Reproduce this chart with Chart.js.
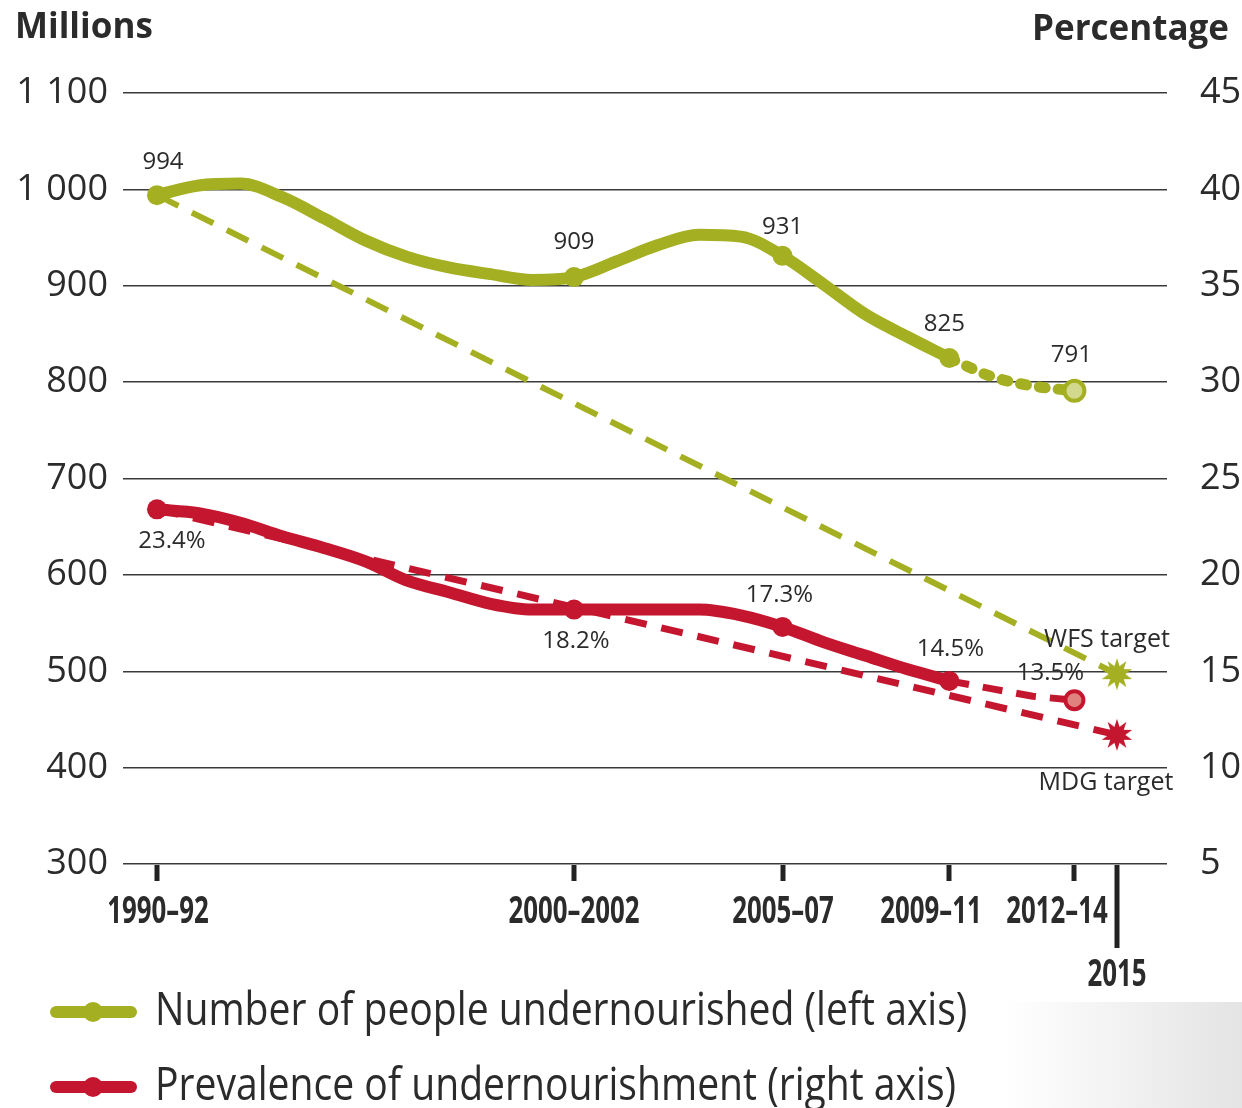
<!DOCTYPE html>
<html>
<head>
<meta charset="utf-8">
<title>Undernourishment</title>
<script src="https://cdn.jsdelivr.net/npm/chart.js@4.4.0/dist/chart.umd.min.js"></script>
<style>
	html, body { margin: 0; padding: 0; background: #fff; }
	#wrap { position: relative; width: 1242px; height: 1108px; }
	#shade { position: absolute; left: 1005px; top: 1002px; width: 237px; height: 106px;
		background: linear-gradient(to right, #ffffff, #e4e4e4); }
	#hungerChart { position: absolute; left: 0; top: 0; }
</style>
</head>
<body>
<div id="wrap">
	<div id="shade"></div>
	<canvas id="hungerChart" width="1242" height="1108"></canvas>
</div>
<script>
// yearly points, 1991 stands for 1990–92, 2001 for 2000–2002 and so on
var years = [1991, 1992, 1993, 1994, 1995, 1996, 1997, 1998, 1999, 2000,
	2001, 2002, 2003, 2004, 2005, 2006, 2007, 2008, 2009, 2010];
var undernourished = [994, 1004, 1006, 992, 970, 947, 930, 919, 912, 906,
	909, 925, 942, 953, 951, 931, 901, 870, 847, 825];
var prevalence = [23.4, 23.2, 22.7, 22.0, 21.4, 20.7, 19.7, 19.1, 18.5, 18.2,
	18.2, 18.2, 18.2, 18.2, 17.9, 17.3, 16.5, 15.8, 15.1, 14.5];

// provisional estimates up to 2012–14
var projYears = [2010, 2011, 2012, 2013];
var undernourishedProj = [825, 806, 796, 791];
var prevalenceProj = [14.5, 14.1, 13.7, 13.5];

// targets: the 2015 mark sits just right of 2012–14 in the original
var targetYears = [1991, 2014.02];
var wfsTarget = [994, 497];
var mdgTarget = [23.4, 11.7];

var tickYears = [1991, 2001, 2006, 2010, 2013, 2014.02];
var tickLabels = ['1990–92', '2000–2002', '2005–07', '2009–11', '2012–14', '2015'];

var labelYears = [1991, 2001, 2006, 2010, 2013];
var numberLabels = ['994', '909', '931', '825', '791'];
var prevalenceLabels = ['23.4%', '18.2%', '17.3%', '14.5%', '13.5%'];

var GREEN = '#a4b021';
var RED = '#c4172f';
var TEXT = '#2b2b2b';
var FONT = '"Open Sans", "Noto Sans", sans-serif';

var toXY = function(xs, ys) {
	return xs.map(function(x, i) {
		return { x: x, y: ys[i] };
	});
};

var valueAt = function(yr, xs, ys, xs2, ys2) {
	var i = xs.indexOf(yr);
	if (i > -1) return ys[i];
	return ys2[xs2.indexOf(yr)];
};

var makeStar = function(color, r) {
	var c = document.createElement('canvas');
	c.width = c.height = r * 2 + 2;
	var g = c.getContext('2d');
	g.translate(r + 1, r + 1);
	g.beginPath();
	for (var i = 0; i < 20; i++) {
		var a = i * Math.PI / 10 - Math.PI / 2;
		var rr = i % 2 === 0 ? r : r * 0.52;
		g.lineTo(Math.cos(a) * rr, Math.sin(a) * rr);
	}
	g.closePath();
	g.fillStyle = color;
	g.fill();
	return c;
};
var greenStar = makeStar(GREEN, 16);
var redStar = makeStar(RED, 16);

var drawText = function(ctx, text, x, y, font, align, squeeze) {
	ctx.save();
	ctx.font = font;
	ctx.translate(x, y);
	ctx.scale(squeeze || 1, 1);
	ctx.textAlign = align || 'center';
	ctx.textBaseline = 'middle';
	ctx.fillText(text, 0, 0);
	ctx.restore();
};

// value labels, axis titles, x ticks and legend
var extrasPlugin = {
	id: 'extras',
	afterDatasetsDraw: function(chart) {
		var ctx = chart.ctx;
		var sx = chart.scales.x, yL = chart.scales.yL, yR = chart.scales.yR;
		var area = chart.chartArea;
		var greenOff = [[6, -33], [0, -35], [0, -29], [-5, -34], [-3, -36]];
		var redOff = [[15, 32], [2, 32], [-3, -32], [1, -32], [-24, -27]];
		var tickShift = [1, 0, 0, -18, -17, 0];
		ctx.save();
		ctx.fillStyle = TEXT;

		labelYears.forEach(function(yr, i) {
			var px = sx.getPixelForValue(yr);
			var n = valueAt(yr, years, undernourished, projYears, undernourishedProj);
			var p = valueAt(yr, years, prevalence, projYears, prevalenceProj);
			drawText(ctx, numberLabels[i], px + greenOff[i][0], yL.getPixelForValue(n) + greenOff[i][1], '24px ' + FONT);
			drawText(ctx, prevalenceLabels[i], px + redOff[i][0], yR.getPixelForValue(p) + redOff[i][1], '24px ' + FONT);
		});

		var tx = sx.getPixelForValue(targetYears[1]);
		drawText(ctx, 'WFS target', tx - 10, yL.getPixelForValue(wfsTarget[1]) - 34, '25px ' + FONT);
		drawText(ctx, 'MDG target', tx - 11, yR.getPixelForValue(mdgTarget[1]) + 48, '25px ' + FONT);

		// axis titles
		drawText(ctx, 'Millions', 15, 28, 'bold 35px ' + FONT, 'left');
		drawText(ctx, 'Percentage', 1229, 30, 'bold 35px ' + FONT, 'right');

		// x ticks
		ctx.strokeStyle = '#222';
		ctx.lineWidth = 5;
		tickYears.forEach(function(v, i) {
			var px = Math.round(sx.getPixelForValue(v));
			var last = i === tickYears.length - 1;
			ctx.beginPath();
			ctx.moveTo(px, area.bottom + 1);
			ctx.lineTo(px, area.bottom + (last ? 84 : 17));
			ctx.stroke();
			drawText(ctx, tickLabels[i], px + tickShift[i], area.bottom + (last ? 111 : 48), 'bold 38px ' + FONT, 'center', 0.68);
		});

		// legend
		var items = [
			{ color: GREEN, text: 'Number of people undernourished (left axis)', y: 1012 },
			{ color: RED, text: 'Prevalence of undernourishment (right axis)', y: 1087 }
		];
		items.forEach(function(it) {
			ctx.strokeStyle = it.color;
			ctx.fillStyle = it.color;
			ctx.lineWidth = 12;
			ctx.lineCap = 'round';
			ctx.beginPath();
			ctx.moveTo(56, it.y);
			ctx.lineTo(131, it.y);
			ctx.stroke();
			ctx.beginPath();
			ctx.arc(93, it.y, 10, 0, Math.PI * 2);
			ctx.fill();
			ctx.fillStyle = TEXT;
			drawText(ctx, it.text, 155, it.y, '46px ' + FONT, 'left', 0.85);
		});
		ctx.restore();
	}
};

var markerRadius = function(ctx) {
	return labelYears.indexOf(years[ctx.dataIndex]) > -1 ? 10 : 0;
};

var chart = new Chart(document.getElementById('hungerChart'), {
	type: 'line',
	data: {
		datasets: [
			{
				label: 'Number of people undernourished',
				data: toXY(years, undernourished),
				yAxisID: 'yL',
				borderColor: GREEN,
				backgroundColor: GREEN,
				borderWidth: 12,
				borderCapStyle: 'round',
				borderJoinStyle: 'round',
				cubicInterpolationMode: 'monotone',
				pointRadius: markerRadius,
				pointBorderWidth: 0,
				order: 1
			},
			{
				label: 'Number estimate',
				data: toXY(projYears, undernourishedProj),
				yAxisID: 'yL',
				borderColor: GREEN,
				borderWidth: 11,
				borderDash: [6, 13],
				borderCapStyle: 'round',
				cubicInterpolationMode: 'monotone',
				pointRadius: function(c) { return c.dataIndex === 3 ? 10 : 0; },
				pointBackgroundColor: '#d2d98f',
				pointBorderColor: GREEN,
				pointBorderWidth: 4,
				order: 2
			},
			{
				label: 'WFS target',
				data: toXY(targetYears, wfsTarget),
				yAxisID: 'yL',
				borderColor: GREEN,
				borderWidth: 6,
				borderDash: [24, 15],
				pointStyle: function(c) { return c.dataIndex === 1 ? greenStar : 'circle'; },
				pointRadius: function(c) { return c.dataIndex === 1 ? 16 : 0; },
				order: 3
			},
			{
				label: 'Prevalence of undernourishment',
				data: toXY(years, prevalence),
				yAxisID: 'yR',
				borderColor: RED,
				backgroundColor: RED,
				borderWidth: 12,
				borderCapStyle: 'round',
				borderJoinStyle: 'round',
				cubicInterpolationMode: 'monotone',
				pointRadius: markerRadius,
				pointBorderWidth: 0,
				order: 1
			},
			{
				label: 'Prevalence estimate',
				data: toXY(projYears, prevalenceProj),
				yAxisID: 'yR',
				borderColor: RED,
				borderWidth: 7,
				borderDash: [20, 14],
				pointRadius: function(c) { return c.dataIndex === 3 ? 9 : 0; },
				pointBackgroundColor: '#e0837f',
				pointBorderColor: RED,
				pointBorderWidth: 4,
				order: 2
			},
			{
				label: 'MDG target',
				data: toXY(targetYears, mdgTarget),
				yAxisID: 'yR',
				borderColor: RED,
				borderWidth: 7,
				borderDash: [22, 15],
				pointStyle: function(c) { return c.dataIndex === 1 ? redStar : 'circle'; },
				pointRadius: function(c) { return c.dataIndex === 1 ? 16 : 0; },
				order: 3
			}
		]
	},
	options: {
		responsive: false,
		animation: false,
		devicePixelRatio: 1,
		layout: { padding: { top: 93, left: 0, right: 0, bottom: 0 } },
		plugins: {
			legend: { display: false },
			tooltip: { enabled: false }
		},
		scales: {
			x: {
				type: 'linear',
				min: 1990.185,
				max: 2015.22,
				grid: { display: false },
				border: { display: false },
				ticks: { display: false },
				afterFit: function(scale) { scale.height = 244; }
			},
			yL: {
				position: 'left',
				min: 300,
				max: 1100,
				ticks: {
					stepSize: 100,
					padding: 15,
					color: TEXT,
					font: { family: FONT, size: 36 },
					callback: function(v) {
						return String(v).replace(/\B(?=(\d{3})+(?!\d))/g, ' ');
					}
				},
				grid: { color: '#3a3a3a', lineWidth: 1.5, drawTicks: false },
				border: { display: false },
				afterFit: function(scale) { scale.width = 123; }
			},
			yR: {
				position: 'right',
				min: 5,
				max: 45,
				ticks: {
					stepSize: 5,
					padding: 25,
					color: TEXT,
					font: { family: FONT, size: 36 }
				},
				grid: { display: false },
				border: { display: false },
				afterFit: function(scale) { scale.width = 75; }
			}
		}
	},
	plugins: [extrasPlugin]
});
</script>
</body>
</html>
